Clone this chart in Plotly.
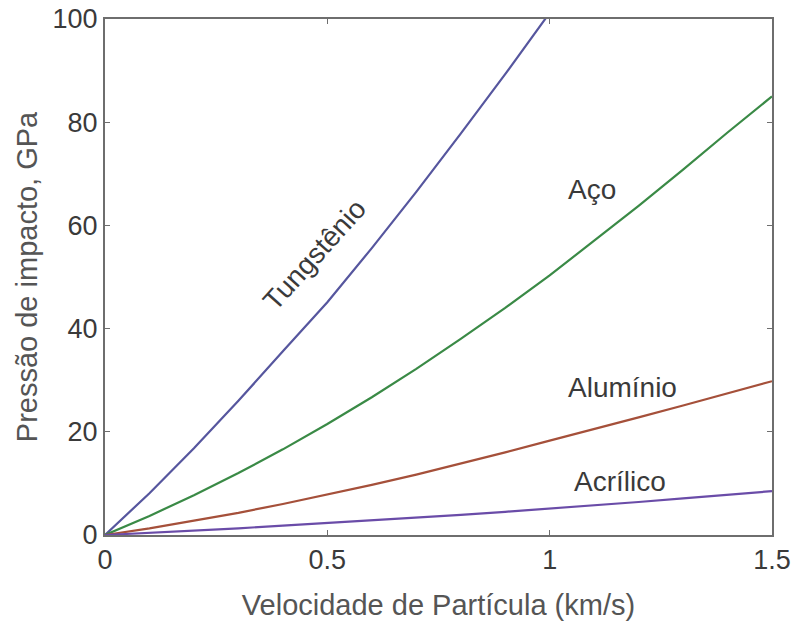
import plotly.graph_objects as go

velocidade = [0.0, 0.1, 0.2, 0.3, 0.4, 0.5, 0.6, 0.7, 0.8, 0.9, 1.0, 1.1, 1.2, 1.3, 1.4, 1.5]
tungstenio = [0.0, 8.1, 16.8, 26.0, 35.6, 45.1, 55.6, 66.5, 77.8, 89.3, 101.2]
aco = [0.0, 3.7, 7.7, 12.0, 16.6, 21.5, 26.7, 32.2, 38.0, 44.0, 50.3, 57.0, 63.8, 70.8, 78.0, 85.0]
aluminio = [0.0, 1.3, 2.8, 4.3, 6.0, 7.8, 9.7, 11.7, 13.8, 16.0, 18.3, 20.5, 22.8, 25.1, 27.4, 29.8]
acrilico = [0.0, 0.4, 0.8, 1.3, 1.8, 2.3, 2.8, 3.3, 3.9, 4.5, 5.1, 5.7, 6.4, 7.1, 7.8, 8.5]

x_ticks = [0, 0.5, 1, 1.5]
x_tick_labels = ["0", "0.5", "1", "1.5"]
y_ticks = [0, 20, 40, 60, 80, 100]

series = [
    ("Tungstênio", tungstenio, "#56569e"),
    ("Aço", aco, "#3a8a46"),
    ("Alumínio", aluminio, "#a5503a"),
    ("Acrílico", acrilico, "#6a4ca8"),
]

fig = go.Figure()
for name, vals, color in series:
    fig.add_trace(go.Scatter(x=velocidade[:len(vals)], y=vals, mode="lines",
                             name=name, line=dict(color=color, width=2.2)))

font = "Liberation Sans, Arial, sans-serif"
labels = [
    ("Tungstênio", 0.472, 54.3, -48),
    ("Aço", 1.095, 66.9, 0),
    ("Alumínio", 1.163, 28.5, 0),
    ("Acrílico", 1.158, 10.3, 0),
]
for text, x, y, ang in labels:
    fig.add_annotation(x=x, y=y, text=text, showarrow=False, textangle=ang,
                       font=dict(family=font, size=28, color="#3a3a3a"))

axis_common = dict(showline=True, linecolor="#6e6e6e", linewidth=2, mirror="allticks",
                   ticks="inside", ticklen=5, tickcolor="#6e6e6e", tickwidth=1,
                   showgrid=False, zeroline=False, automargin=False,
                   ticklabeloverflow="allow",
                   tickfont=dict(family=font, size=27, color="#3a3a3a"))

fig.update_layout(
    width=795, height=625,
    margin=dict(l=105, r=23, t=19, b=90),
    paper_bgcolor="white", plot_bgcolor="white",
    showlegend=False,
    xaxis=dict(range=[0, 1.5], tickvals=x_ticks, ticktext=x_tick_labels,
               title=dict(text="Velocidade de Partícula (km/s)", standoff=20,
                          font=dict(family=font, size=29, color="#555555")),
               **axis_common),
    yaxis=dict(range=[0, 100], tickvals=y_ticks,
               title=dict(text="Pressão de impacto, GPa", standoff=6,
                          font=dict(family=font, size=29, color="#555555")),
               **axis_common),
)

fig.write_html("out.html", config={"displayModeBar": False},
               post_script="document.body.style.margin='0';")
